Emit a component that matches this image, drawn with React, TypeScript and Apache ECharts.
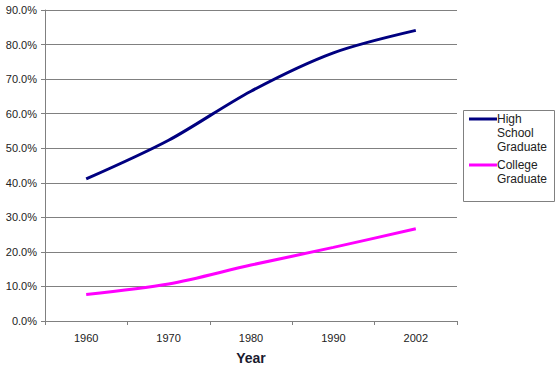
import React, { useEffect, useRef } from "react";
import * as echarts from "echarts";

const years = ["1960", "1970", "1980", "1990", "2002"];
const highSchool = [41.1, 52.3, 66.5, 77.6, 84.1];
const college = [7.7, 10.7, 16.2, 21.3, 26.7];
const seriesNames = ["High School Graduate", "College Graduate"];
const legendLines = [["High", "School", "Graduate"], ["College", "Graduate"]];
const colors = ["#000080", "#FF00FF"];

export default function App() {
  const ref = useRef<HTMLDivElement>(null);
  useEffect(() => {
    const chart = echarts.init(ref.current!, null, { renderer: "svg" });
    const font = "Arial, 'Liberation Sans', sans-serif";
    const legendGraphics: any[] = [
      {
        type: "rect",
        shape: { x: 463.5, y: 110.5, width: 91, height: 91 },
        style: { fill: "#fff", stroke: "#808080", lineWidth: 1 },
      },
    ];
    let y = 119;
    legendLines.forEach((lines, i) => {
      legendGraphics.push({
        type: "line",
        shape: { x1: 469, y1: y, x2: 497, y2: y },
        style: { stroke: colors[i], lineWidth: 3 },
      });
      legendGraphics.push({
        type: "text",
        x: 497,
        y: y - 7,
        style: {
          text: lines.join("\n"),
          font: `12px ${font}`,
          lineHeight: 14,
          fill: "#222",
          textVerticalAlign: "top",
        },
      });
      y += lines.length * 14 + 4;
    });

    chart.setOption({
      animation: false,
      backgroundColor: "#fff",
      grid: { left: 45, right: 103, top: 10, bottom: 45, containLabel: false },
      xAxis: {
        type: "category",
        data: years,
        boundaryGap: true,
        name: "Year",
        nameLocation: "middle",
        nameGap: 30,
        nameTextStyle: { fontFamily: font, fontSize: 14, fontWeight: "bold", color: "#1a1a2e" },
        axisLine: { lineStyle: { color: "#808080", width: 1 } },
        axisTick: { show: true, length: 4, lineStyle: { color: "#808080" } },
        axisLabel: { fontFamily: font, fontSize: 11, color: "#222", margin: 11 },
        splitLine: { show: false },
      },
      yAxis: {
        type: "value",
        min: 0,
        max: 90,
        interval: 10,
        axisLine: { show: true, lineStyle: { color: "#808080", width: 1 } },
        axisTick: { show: true, length: 4, lineStyle: { color: "#808080" } },
        axisLabel: {
          fontFamily: font,
          fontSize: 11,
          color: "#222",
          margin: 8,
          formatter: (v: number) => v.toFixed(1) + "%",
        },
        splitLine: { show: true, lineStyle: { color: "#808080", width: 1 } },
      },
      series: [
        {
          name: seriesNames[0],
          type: "line",
          data: highSchool,
          smooth: 0.3,
          showSymbol: false,
          lineStyle: { color: colors[0], width: 3 },
          itemStyle: { color: colors[0] },
        },
        {
          name: seriesNames[1],
          type: "line",
          data: college,
          smooth: 0.3,
          showSymbol: false,
          lineStyle: { color: colors[1], width: 3 },
          itemStyle: { color: colors[1] },
        },
      ],
      graphic: legendGraphics,
    });
    return () => chart.dispose();
  }, []);
  return <div ref={ref} style={{ width: 560, height: 370, position: "absolute", left: 0, top: 0 }} />;
}
